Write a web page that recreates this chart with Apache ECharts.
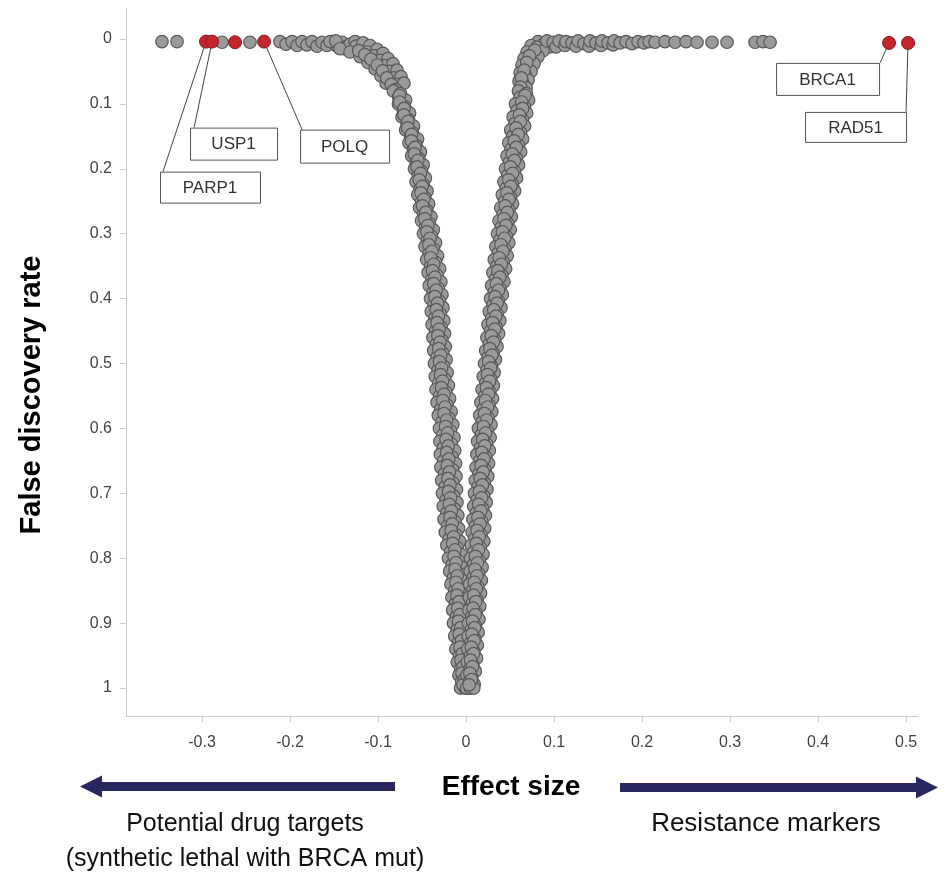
<!DOCTYPE html>
<html><head><meta charset="utf-8">
<script src="https://cdn.jsdelivr.net/npm/echarts@6/dist/echarts.min.js"></script>
<style>html,body{margin:0;padding:0;background:#fff}#c{width:948px;height:895px}</style>
</head><body><div id="c"></div>
<script>
const xTicks = [-0.3,-0.2,-0.1,0,0.1,0.2,0.3,0.4,0.5];
const yTicks = [0,0.1,0.2,0.3,0.4,0.5,0.6,0.7,0.8,0.9,1];

const topRowLeft = [[-0.3455,0.004],[-0.3284,0.004],[-0.2773,0.005],[-0.2455,0.005],[-0.2114,0.004],[-0.2045,0.008],[-0.1977,0.004],[-0.1920,0.010],[-0.1864,0.004],[-0.1807,0.009],[-0.1750,0.004],[-0.1693,0.011],[-0.1636,0.005],[-0.1580,0.010],[-0.1523,0.004],[-0.1466,0.011],[-0.1409,0.005],[-0.1364,0.012],[-0.1545,0.004],[-0.1480,0.003],[-0.1390,0.015]];

const leftCurve = [[-0.1318,0.008],[-0.1261,0.004],[-0.1250,0.011],[-0.1432,0.015],[-0.1318,0.020],[-0.1182,0.015],[-0.1170,0.006],[-0.1091,0.010],[-0.1114,0.020],[-0.1205,0.027],[-0.1011,0.016],[-0.1045,0.026],[-0.1114,0.036],[-0.0943,0.022],[-0.0977,0.033],[-0.1034,0.046],[-0.0886,0.030],[-0.0920,0.041],[-0.0966,0.057],[-0.0830,0.038],[-0.0864,0.050],[-0.0909,0.068],[-0.0784,0.048],[-0.0818,0.060],[-0.0739,0.058],[-0.0773,0.070],[-0.0705,0.068],
[-0.1220,0.018],[-0.1150,0.024],[-0.1080,0.031],[-0.1010,0.040],[-0.0950,0.049],[-0.0900,0.060],[-0.0850,0.070],[-0.0800,0.078]];

const leftArm = [
[-0.0825,0.08],[-0.0745,0.084],[-0.0765,0.09],[-0.0687,0.094],[-0.0768,0.10],[-0.0699,0.104],[-0.0712,0.11],[-0.0641,0.114],
[-0.0727,0.12],[-0.0653,0.124],[-0.0671,0.13],[-0.0596,0.134],[-0.0686,0.14],[-0.0608,0.144],[-0.0630,0.15],[-0.0550,0.154],
[-0.0649,0.16],[-0.0569,0.164],[-0.0598,0.17],[-0.0518,0.174],[-0.0618,0.18],[-0.0538,0.184],[-0.0567,0.19],[-0.0487,0.194],
[-0.0586,0.20],[-0.0506,0.204],[-0.0542,0.21],[-0.0462,0.214],[-0.0568,0.22],[-0.0488,0.224],[-0.0523,0.23],[-0.0443,0.234],
[-0.0549,0.24],[-0.0469,0.244],[-0.0505,0.25],[-0.0425,0.254],[-0.0529,0.26],[-0.0446,0.264],[-0.0483,0.27],[-0.0398,0.274],
[-0.0506,0.28],[-0.0419,0.284],[-0.0460,0.29],[-0.0371,0.294],[-0.0484,0.30],[-0.0392,0.304],[-0.0440,0.31],[-0.0346,0.314],
[-0.0466,0.32],[-0.0369,0.324],[-0.0421,0.33],[-0.0323,0.334],[-0.0447,0.34],[-0.0346,0.344],[-0.0403,0.35],[-0.0300,0.354],
[-0.0431,0.36],[-0.0328,0.364],[-0.0389,0.37],[-0.0286,0.374],[-0.0418,0.38],[-0.0315,0.384],[-0.0376,0.39],[-0.0273,0.394],
[-0.0404,0.40],[-0.0301,0.404],[-0.0364,0.41],[-0.0262,0.414],[-0.0395,0.42],[-0.0292,0.424],[-0.0355,0.43],[-0.0253,0.434],
[-0.0386,0.44],[-0.0283,0.444],[-0.0346,0.45],[-0.0244,0.454],[-0.0377,0.46],[-0.0274,0.464],[-0.0337,0.47],[-0.0235,0.474],
[-0.0368,0.48],[-0.0265,0.484],[-0.0328,0.49],[-0.0226,0.494],[-0.0359,0.50],[-0.0256,0.504],[-0.0319,0.51],[-0.0214,0.514],
[-0.0350,0.52],[-0.0242,0.524],[-0.0310,0.53],[-0.0200,0.534],[-0.0341,0.54],[-0.0229,0.544],[-0.0301,0.55],[-0.0187,0.554],
[-0.0329,0.56],[-0.0213,0.564],[-0.0287,0.57],[-0.0169,0.574],[-0.0315,0.58],[-0.0195,0.584],[-0.0274,0.59],[-0.0150,0.594],
[-0.0302,0.60],[-0.0176,0.604],[-0.0265,0.61],[-0.0137,0.614],[-0.0297,0.62],[-0.0167,0.624],[-0.0260,0.63],[-0.0128,0.634],
[-0.0292,0.64],[-0.0158,0.644],[-0.0255,0.65],[-0.0119,0.654],[-0.0286,0.66],[-0.0152,0.664],[-0.0246,0.67],[-0.0114,0.674],
[-0.0277,0.68],[-0.0147,0.684],[-0.0237,0.69],[-0.0109,0.694],[-0.0268,0.70],[-0.0142,0.704],[-0.0228,0.71],[-0.0103,0.714],
[-0.0259,0.72],[-0.0133,0.724],[-0.0219,0.73],[-0.0094,0.734],[-0.0250,0.74],[-0.0124,0.744],[-0.0210,0.75],[-0.0085,0.754],
[-0.0236,0.76],[-0.0113,0.764],[-0.0192,0.77],[-0.0071,0.774],[-0.0218,0.78],[-0.0099,0.784],[-0.0174,0.79],[-0.0057,0.794],
[-0.0200,0.80],[-0.0085,0.804],[-0.0158,0.81],[-0.0046,0.814],[-0.0186,0.82],[-0.0076,0.824],[-0.0144,0.83],[-0.0037,0.834],
[-0.0172,0.84],[-0.0067,0.844],[-0.0130,0.85],[-0.0028,0.854],[-0.0161,0.86],[-0.0058,0.864],[-0.0121,0.87],[-0.0019,0.874],
[-0.0152,0.88],[-0.0049,0.884],[-0.0112,0.89],[-0.0010,0.894],[-0.0143,0.90],[-0.0040,0.904],[-0.0101,0.91],[-0.0003,0.914],
[-0.0129,0.92],[-0.0036,0.924],[-0.0087,0.93],[0.0002,0.934],[-0.0116,0.94],[-0.0031,0.944],[-0.0074,0.95],[0.0006,0.954],
[-0.0100,0.96],[-0.0027,0.964],[-0.0060,0.97],[0.0011,0.974],[-0.0081,0.98],[-0.0022,0.984],[-0.0050,0.99],[0.0015,0.994],
[-0.0063,1.0],[-0.0010,1.0],[0.0020,1.0]];

const leftArmMid = [
[-0.0756,0.087],[-0.0754,0.097],[-0.0704,0.107],[-0.0706,0.117],[-0.0660,0.127],[-0.0663,0.137],[-0.0618,0.147],[-0.0620,0.157],
[-0.0580,0.167],[-0.0588,0.177],[-0.0548,0.187],[-0.0557,0.197],[-0.0517,0.207],[-0.0532,0.217],[-0.0498,0.227],[-0.0513,0.237],
[-0.0480,0.247],[-0.0495,0.257],[-0.0458,0.267],[-0.0470,0.277],[-0.0433,0.287],[-0.0445,0.297],[-0.0409,0.307],[-0.0422,0.317],
[-0.0388,0.327],[-0.0402,0.337],[-0.0367,0.347],[-0.0381,0.357],[-0.0353,0.367],[-0.0367,0.377],[-0.0339,0.387],[-0.0354,0.397],
[-0.0323,0.407],[-0.0338,0.417],[-0.0314,0.427],[-0.0329,0.437],[-0.0305,0.447],[-0.0320,0.457],[-0.0296,0.467],[-0.0311,0.477],
[-0.0287,0.487],[-0.0302,0.497],[-0.0278,0.507],[-0.0290,0.517],[-0.0266,0.527],[-0.0279,0.537],[-0.0249,0.547],[-0.0265,0.557],
[-0.0238,0.567],[-0.0250,0.577],[-0.0221,0.587],[-0.0233,0.597],[-0.0209,0.607],[-0.0227,0.617],[-0.0203,0.627],[-0.0220,0.637],
[-0.0196,0.647],[-0.0213,0.657],[-0.0189,0.667],[-0.0206,0.677],[-0.0182,0.687],[-0.0199,0.697],[-0.0175,0.707],[-0.0190,0.717],
[-0.0166,0.727],[-0.0181,0.737],[-0.0157,0.747],[-0.0169,0.757],[-0.0141,0.767],[-0.0153,0.777],[-0.0125,0.787],[-0.0137,0.797],
[-0.0113,0.807],[-0.0125,0.817],[-0.0100,0.827],[-0.0114,0.837],[-0.0088,0.847],[-0.0104,0.857],[-0.0079,0.867],[-0.0095,0.877],
[-0.0070,0.887],[-0.0086,0.897],[-0.0061,0.907],[-0.0077,0.917],[-0.0052,0.927],[-0.0068,0.937],[-0.0043,0.947],[-0.0058,0.957],
[-0.0032,0.967],[-0.0046,0.977],[-0.0020,0.987],[-0.0035,0.995]];

const rightCurve = [[0.0818,0.004],[0.0886,0.007],[0.0955,0.012],[0.0739,0.010],[0.0807,0.013],[0.0875,0.018],[0.0693,0.020],[0.0761,0.022],[0.0818,0.027],[0.0659,0.030],[0.0727,0.032],[0.0773,0.038],[0.0636,0.040],[0.0693,0.043],[0.0739,0.050],[0.0614,0.052],[0.0670,0.055],[0.0705,0.063],[0.0602,0.065],[0.0648,0.068],[0.0682,0.075],
[0.0780,0.017],[0.0720,0.026],[0.0690,0.036],[0.0660,0.048],[0.0630,0.060],[0.0620,0.074]];

const rightArm = [
[0.0596,0.08],[0.0687,0.084],[0.0614,0.09],[0.0711,0.094],[0.0562,0.10],[0.0665,0.104],[0.0583,0.11],[0.0689,0.114],
[0.0535,0.12],[0.0642,0.124],[0.0556,0.13],[0.0666,0.134],[0.0508,0.14],[0.0619,0.144],[0.0529,0.15],[0.0643,0.154],
[0.0485,0.16],[0.0597,0.164],[0.0511,0.17],[0.0620,0.174],[0.0466,0.18],[0.0574,0.184],[0.0492,0.19],[0.0597,0.194],
[0.0448,0.20],[0.0551,0.204],[0.0474,0.21],[0.0575,0.214],[0.0430,0.22],[0.0528,0.224],[0.0456,0.23],[0.0552,0.234],
[0.0412,0.24],[0.0505,0.244],[0.0438,0.25],[0.0529,0.254],[0.0394,0.26],[0.0487,0.264],[0.0420,0.27],[0.0515,0.274],
[0.0375,0.28],[0.0474,0.284],[0.0401,0.29],[0.0502,0.294],[0.0357,0.30],[0.0460,0.304],[0.0383,0.31],[0.0486,0.314],
[0.0339,0.32],[0.0442,0.324],[0.0365,0.33],[0.0468,0.334],[0.0321,0.34],[0.0424,0.344],[0.0347,0.35],[0.0450,0.354],
[0.0305,0.36],[0.0406,0.364],[0.0333,0.37],[0.0431,0.374],[0.0291,0.38],[0.0387,0.384],[0.0320,0.39],[0.0413,0.394],
[0.0278,0.40],[0.0369,0.404],[0.0306,0.41],[0.0397,0.414],[0.0264,0.42],[0.0355,0.424],[0.0292,0.43],[0.0384,0.434],
[0.0250,0.44],[0.0342,0.444],[0.0279,0.45],[0.0370,0.454],[0.0237,0.46],[0.0326,0.464],[0.0265,0.47],[0.0352,0.474],
[0.0223,0.48],[0.0308,0.484],[0.0251,0.49],[0.0334,0.494],[0.0210,0.50],[0.0290,0.504],[0.0238,0.51],[0.0320,0.514],
[0.0196,0.52],[0.0281,0.524],[0.0224,0.53],[0.0311,0.534],[0.0182,0.54],[0.0271,0.544],[0.0210,0.55],[0.0302,0.554],
[0.0169,0.56],[0.0262,0.564],[0.0197,0.57],[0.0293,0.574],[0.0155,0.58],[0.0253,0.584],[0.0183,0.59],[0.0284,0.594],
[0.0141,0.60],[0.0244,0.604],[0.0172,0.61],[0.0274,0.614],[0.0132,0.62],[0.0235,0.624],[0.0163,0.63],[0.0265,0.634],
[0.0123,0.64],[0.0226,0.644],[0.0154,0.65],[0.0256,0.654],[0.0114,0.66],[0.0217,0.664],[0.0145,0.67],[0.0247,0.674],
[0.0105,0.68],[0.0208,0.684],[0.0136,0.69],[0.0238,0.694],[0.0096,0.70],[0.0199,0.704],[0.0126,0.71],[0.0229,0.714],
[0.0087,0.72],[0.0190,0.724],[0.0117,0.73],[0.0220,0.734],[0.0078,0.74],[0.0181,0.744],[0.0108,0.75],[0.0211,0.754],
[0.0069,0.76],[0.0171,0.764],[0.0099,0.77],[0.0202,0.774],[0.0060,0.78],[0.0162,0.784],[0.0090,0.79],[0.0193,0.794],
[0.0050,0.80],[0.0153,0.804],[0.0083,0.81],[0.0183,0.814],[0.0046,0.82],[0.0144,0.824],[0.0079,0.83],[0.0174,0.834],
[0.0041,0.84],[0.0135,0.844],[0.0074,0.85],[0.0165,0.854],[0.0037,0.86],[0.0126,0.864],[0.0070,0.87],[0.0156,0.874],
[0.0032,0.88],[0.0117,0.884],[0.0065,0.89],[0.0147,0.894],[0.0028,0.90],[0.0108,0.904],[0.0061,0.91],[0.0138,0.914],
[0.0023,0.92],[0.0099,0.924],[0.0056,0.93],[0.0129,0.934],[0.0019,0.94],[0.0090,0.944],[0.0051,0.95],[0.0120,0.954],
[0.0014,0.96],[0.0078,0.964],[0.0047,0.97],[0.0106,0.974],[0.0010,0.98],[0.0065,0.984],[0.0040,0.99],[0.0093,0.994],
[0.0005,1.0],[0.0050,1.0],[0.0088,1.0]];

const rightArmMid = [
[0.0671,0.087],[0.0633,0.097],[0.0643,0.107],[0.0607,0.117],[0.0618,0.127],[0.0569,0.137],[0.0593,0.147],[0.0547,0.157],
[0.0571,0.167],[0.0526,0.177],[0.0550,0.187],[0.0505,0.197],[0.0529,0.207],[0.0485,0.217],[0.0509,0.227],[0.0464,0.237],
[0.0488,0.247],[0.0446,0.257],[0.0470,0.267],[0.0430,0.277],[0.0454,0.287],[0.0414,0.297],[0.0438,0.307],[0.0396,0.317],
[0.0420,0.327],[0.0378,0.337],[0.0402,0.347],[0.0361,0.357],[0.0385,0.367],[0.0345,0.377],[0.0369,0.387],[0.0329,0.397],
[0.0353,0.407],[0.0315,0.417],[0.0339,0.427],[0.0302,0.437],[0.0326,0.447],[0.0287,0.457],[0.0311,0.467],[0.0271,0.477],
[0.0295,0.487],[0.0256,0.497],[0.0280,0.507],[0.0244,0.517],[0.0268,0.527],[0.0232,0.537],[0.0256,0.547],[0.0221,0.557],
[0.0245,0.567],[0.0210,0.577],[0.0234,0.587],[0.0198,0.597],[0.0222,0.607],[0.0189,0.617],[0.0213,0.627],[0.0180,0.637],
[0.0204,0.647],[0.0171,0.657],[0.0195,0.667],[0.0162,0.677],[0.0186,0.687],[0.0153,0.697],[0.0177,0.707],[0.0144,0.717],
[0.0168,0.727],[0.0135,0.737],[0.0159,0.747],[0.0126,0.757],[0.0150,0.767],[0.0117,0.777],[0.0141,0.787],[0.0107,0.797],
[0.0131,0.807],[0.0101,0.817],[0.0125,0.827],[0.0094,0.837],[0.0118,0.847],[0.0087,0.857],[0.0111,0.867],[0.0080,0.877],
[0.0104,0.887],[0.0074,0.897],[0.0098,0.907],[0.0067,0.917],[0.0091,0.927],[0.0060,0.937],[0.0084,0.947],[0.0052,0.957],
[0.0074,0.967],[0.0043,0.977],[0.0062,0.987],[0.0035,0.995]];

const topRowRight = [[0.0920,0.003],[0.0990,0.005],[0.1023,0.012],[0.1057,0.003],[0.1125,0.010],[0.1136,0.004],[0.1205,0.006],[0.1250,0.011],[0.1273,0.003],[0.1341,0.007],[0.1398,0.011],[0.1409,0.003],[0.1477,0.006],[0.1534,0.010],[0.1545,0.003],[0.1614,0.006],[0.1670,0.009],[0.1682,0.003],[0.1750,0.006],[0.1818,0.004],[0.1886,0.007],[0.1955,0.004],[0.2023,0.006],[0.2080,0.004],[0.2148,0.005],[0.2261,0.004],[0.2375,0.005],[0.2500,0.004],[0.2625,0.005],[0.2795,0.005],[0.2966,0.005],[0.3284,0.005],[0.3375,0.004],[0.3455,0.005]];

const hitNames = ['PARP1','USP1','','POLQ','BRCA1','RAD51'];
const hitEffect = [-0.2955,-0.2886,-0.2625,-0.2295,0.4807,0.5023];
const hitFdr = [0.004,0.004,0.005,0.004,0.006,0.006];

// annotation layout (pixel offsets relative to the hit point)
const annot = {
  PARP1:{box:[-46,130,100,31], end:[-43,130]},
  USP1:{box:[-22,86,87,32], end:[-18,86]},
  POLQ:{box:[36,88,89,33], end:[38,88]},
  BRCA1:{box:[-113,20,103,32], end:[-9,20]},
  RAD51:{box:[-103,69,101,30], end:[-2,69]}
};

const chart = echarts.init(document.getElementById('c'));
const grayPoints = [].concat(topRowLeft, leftCurve, leftArm, leftArmMid, rightCurve, rightArm, rightArmMid, topRowRight);
const hitData = hitEffect.map((e,i)=>({value:[e,hitFdr[i]], name:hitNames[i]}));
const fmt = v => String(+(+v).toFixed(1));
const axisCol = '#cccccc';
const FONT = 'Liberation Sans, Arial, sans-serif';

chart.setOption({
  animation:false,
  backgroundColor:'#fff',
  grid:{left:126,right:30,top:8,bottom:179},
  xAxis:{type:'value',min:-0.3864,max:0.5136,
    axisLine:{show:true,onZero:false,lineStyle:{color:axisCol,width:1}},
    axisTick:{show:true,customValues:xTicks,length:6,lineStyle:{color:axisCol}},
    axisLabel:{customValues:xTicks,formatter:fmt,color:'#444',fontSize:16,fontFamily:FONT,margin:19},
    splitLine:{show:false}},
  yAxis:{type:'value',inverse:true,min:-0.0478,max:1.0431,
    axisLine:{show:true,onZero:false,lineStyle:{color:axisCol,width:1}},
    axisTick:{show:true,customValues:yTicks,length:6,lineStyle:{color:axisCol}},
    axisLabel:{customValues:yTicks,formatter:fmt,color:'#444',fontSize:16,fontFamily:FONT,margin:14},
    splitLine:{show:false}},
  series:[
    {type:'scatter',data:grayPoints,symbolSize:12.5,z:3,
      itemStyle:{color:'#9a9a9a',borderColor:'#595959',borderWidth:1.2,opacity:1}},
    {type:'scatter',data:hitData,symbolSize:13,z:4,
      itemStyle:{color:'#c3262c',borderColor:'#8e1b1f',borderWidth:1,opacity:1}}
  ]
});

const g = [];
hitData.forEach(d=>{
  const a = annot[d.name]; if(!a) return;
  const p = chart.convertToPixel({xAxisIndex:0,yAxisIndex:0}, d.value);
  g.push({type:'line',z:1,shape:{x1:p[0],y1:p[1],x2:p[0]+a.end[0],y2:p[1]+a.end[1]},style:{stroke:'#444',lineWidth:1}});
  const bx=p[0]+a.box[0], by=p[1]+a.box[1];
  g.push({type:'rect',z:5,shape:{x:bx+0.5,y:by+0.5,width:a.box[2],height:a.box[3]},style:{fill:'#fff',stroke:'#555',lineWidth:1}});
  g.push({type:'text',z:6,x:bx+a.box[2]/2,y:by+a.box[3]/2+1,style:{text:d.name,fill:'#333',font:'17px '+FONT,align:'center',verticalAlign:'middle'}});
});
const navy = '#28275f';
g.push({type:'text',z:6,x:32,y:395,rotation:Math.PI/2,style:{text:'False discovery rate',fill:'#000',font:'bold 29px '+FONT,align:'center',verticalAlign:'middle'}});
g.push({type:'text',z:6,x:511,y:787,style:{text:'Effect size',fill:'#000',font:'bold 28px '+FONT,align:'center',verticalAlign:'middle'}});
g.push({type:'rect',z:6,shape:{x:100,y:782,width:295,height:9},style:{fill:navy}});
g.push({type:'polygon',z:6,shape:{points:[[80,786.5],[102,775.5],[102,797.5]]},style:{fill:navy}});
g.push({type:'rect',z:6,shape:{x:620,y:783,width:298,height:9},style:{fill:navy}});
g.push({type:'polygon',z:6,shape:{points:[[938,787.5],[916,776.5],[916,798.5]]},style:{fill:navy}});
g.push({type:'text',z:6,x:245,y:824,style:{text:'Potential drug targets',fill:'#111',font:'25px '+FONT,align:'center',verticalAlign:'middle'}});
g.push({type:'text',z:6,x:245,y:859,style:{text:'(synthetic lethal with BRCA mut)',fill:'#111',font:'25px '+FONT,align:'center',verticalAlign:'middle'}});
g.push({type:'text',z:6,x:766,y:824,style:{text:'Resistance markers',fill:'#111',font:'26px '+FONT,align:'center',verticalAlign:'middle'}});
chart.setOption({graphic:g});
</script></body></html>
